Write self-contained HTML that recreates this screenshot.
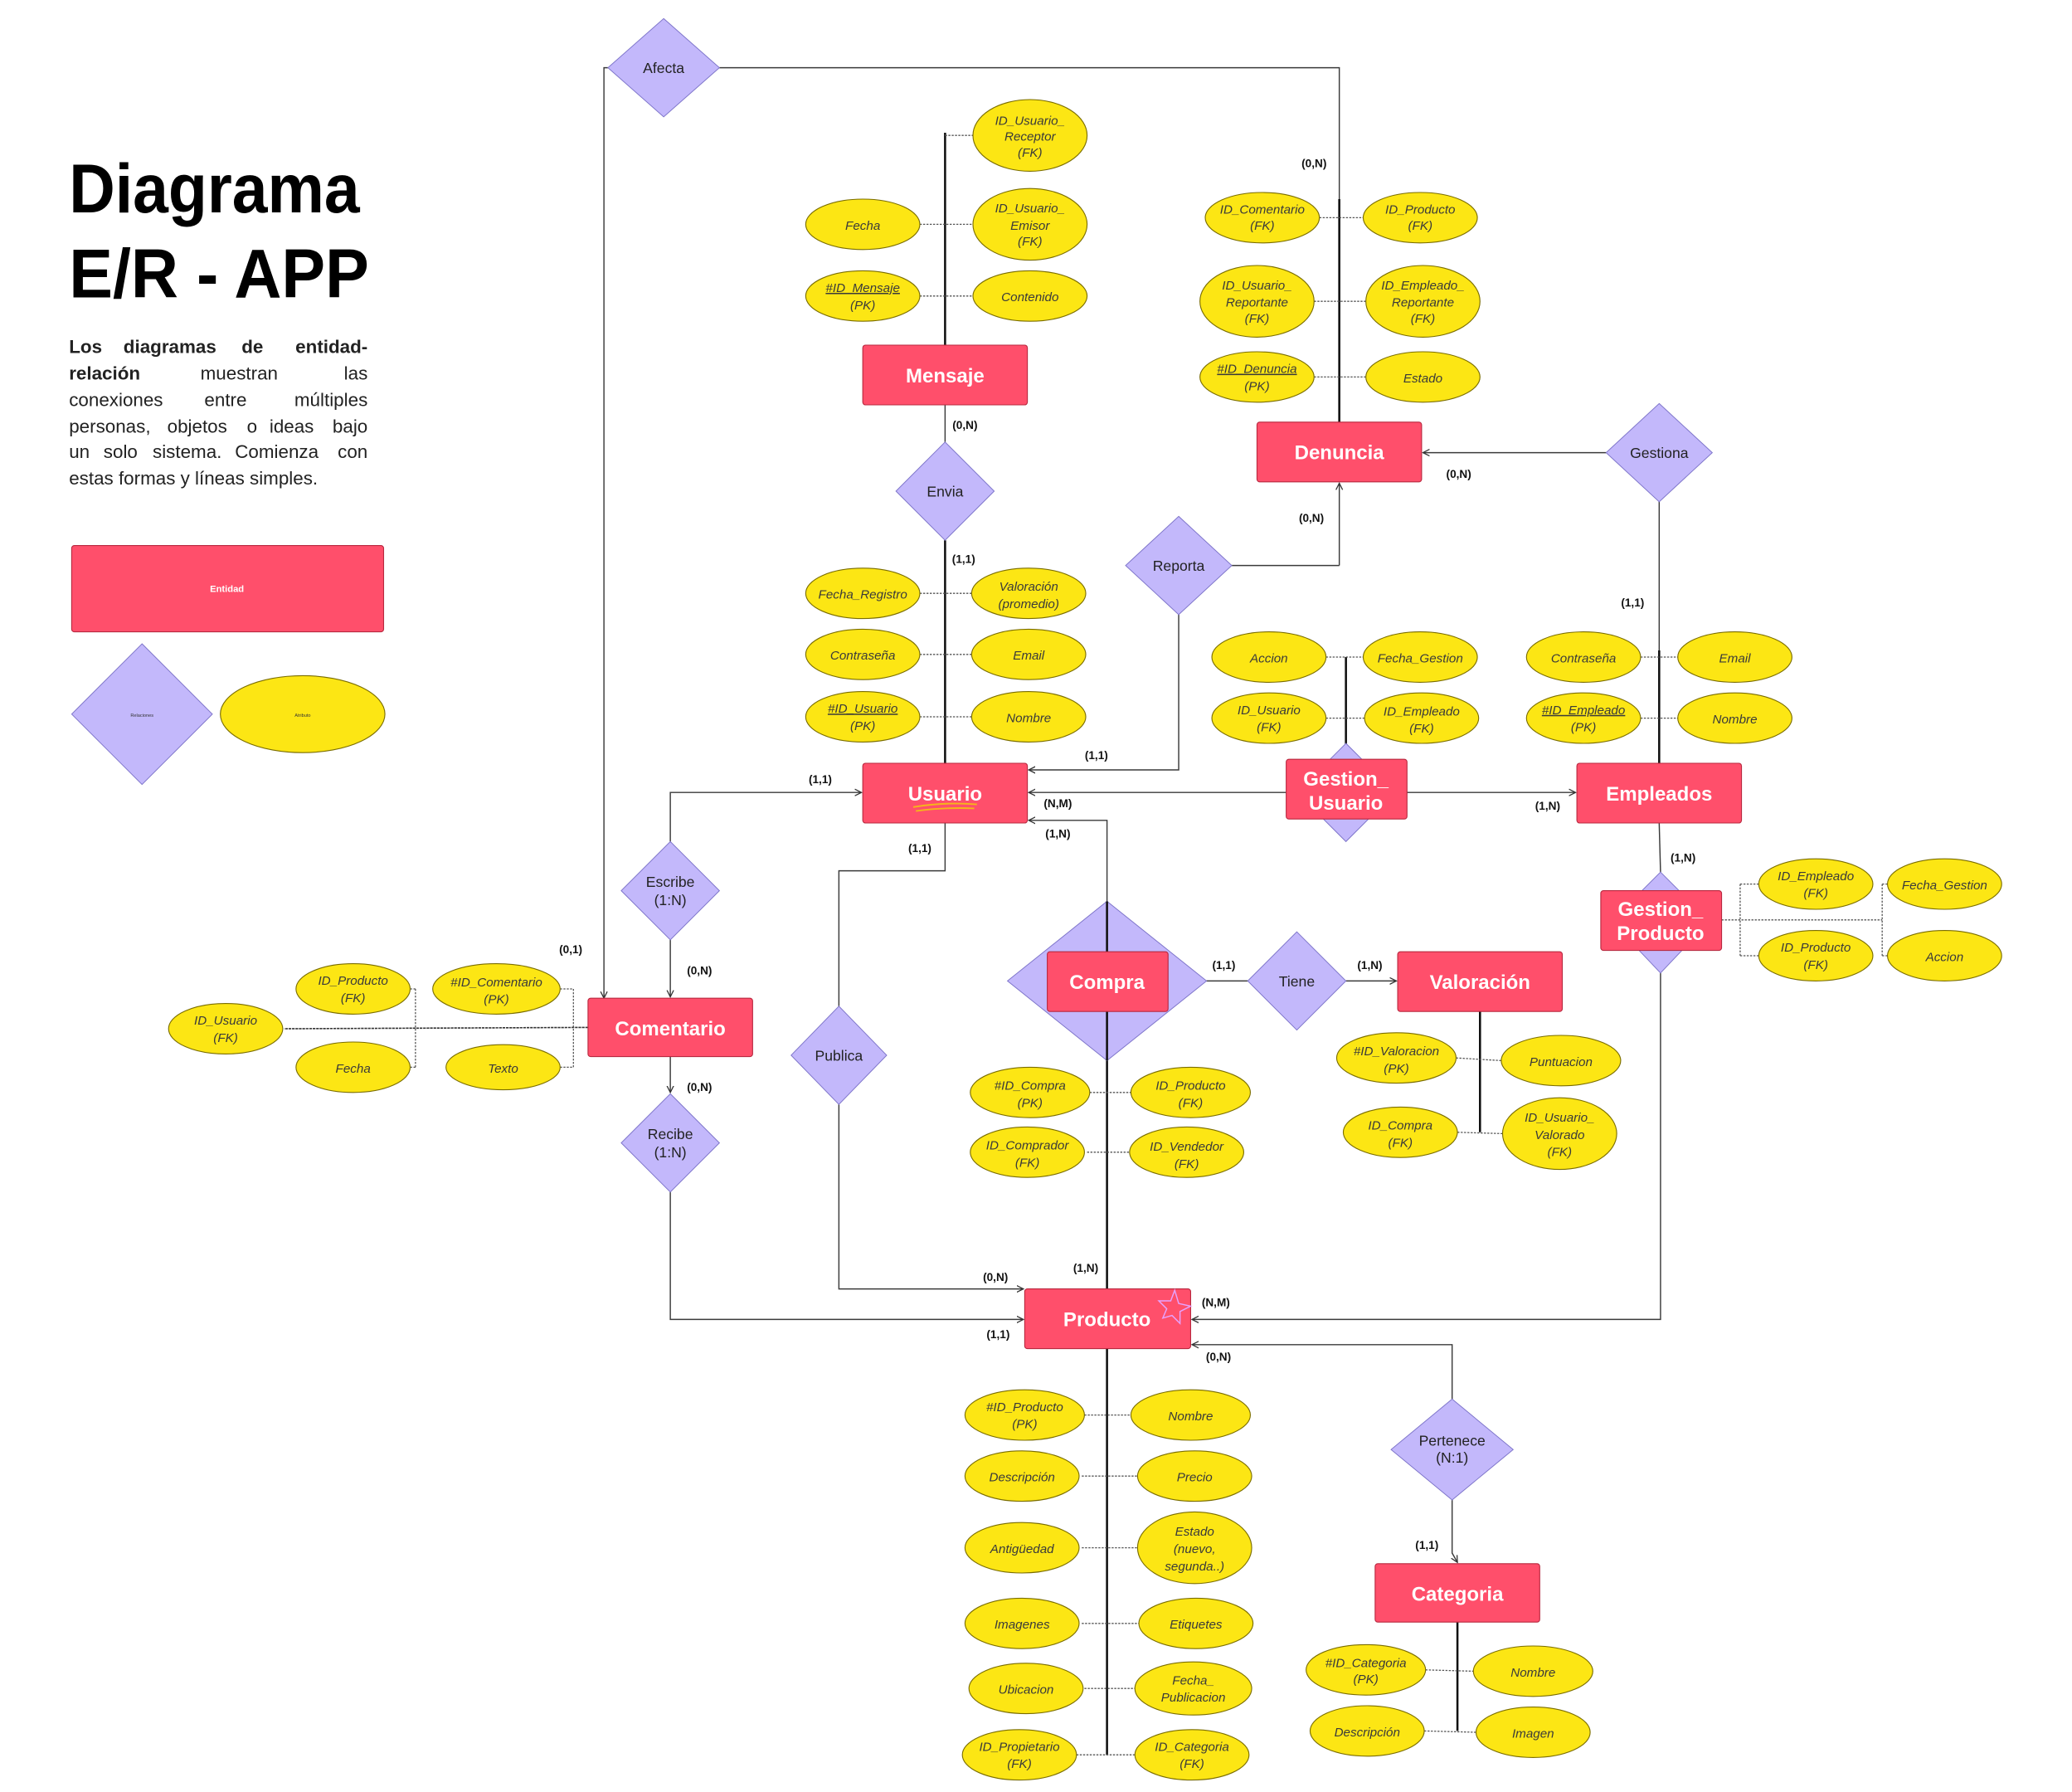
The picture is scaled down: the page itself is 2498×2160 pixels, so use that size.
<!DOCTYPE html>
<html><head><meta charset="utf-8"><style>
html,body{margin:0;padding:0;background:#fff}
svg{display:block}
.e{fill:#FCE614;stroke:#7a6d00;stroke-width:.7}
.a{font-family:"Liberation Sans",sans-serif;font-style:italic;font-size:9.5px;fill:#3a3a3a;text-anchor:middle}
.d{fill:#C3B8FB;stroke:#7d74c9;stroke-width:.6}
.dt{font-family:"Liberation Sans",sans-serif;font-size:11px;fill:#222;text-anchor:middle}
.r{fill:#FF4F6B;stroke:#b8283f;stroke-width:.7}
.t{font-family:"Liberation Sans",sans-serif;font-weight:bold;font-size:15px;fill:#fff;text-anchor:middle}
.c{font-family:"Liberation Sans",sans-serif;font-weight:bold;font-size:8.5px;fill:#111;text-anchor:middle}
.l{stroke:#3a3a3a;stroke-width:.9;fill:none}
.v{stroke:#111;stroke-width:1.6;fill:none}
.dl{stroke:#555;stroke-width:.8;stroke-dasharray:1.5 1;fill:none}
.p{font-family:"Liberation Sans",sans-serif;font-size:14px;fill:#222}
</style></head><body>
<svg width="2498" height="2160" viewBox="0 0 1561 1350" preserveAspectRatio="none" xmlns="http://www.w3.org/2000/svg">
<defs><marker id="ar" markerWidth="6" markerHeight="6" refX="5" refY="3" orient="auto" markerUnits="userSpaceOnUse"><path d="M0,0.5 L5,3 L0,5.5" fill="none" stroke="#333" stroke-width=".8"/></marker></defs>

<!-- Title -->
<text x="52" y="160" font-family="Liberation Sans" font-weight="bold" font-size="52" textLength="219" lengthAdjust="spacingAndGlyphs" fill="#000">Diagrama</text>
<text x="52" y="224" font-family="Liberation Sans" font-weight="bold" font-size="52" textLength="226" lengthAdjust="spacingAndGlyphs" fill="#000">E/R - APP</text>
<text class="p" x="52" y="266" font-weight="bold">Los</text>
<text class="p" x="93" y="266" font-weight="bold">diagramas</text>
<text class="p" x="182" y="266" font-weight="bold">de</text>
<text class="p" x="277" y="266" font-weight="bold" text-anchor="end">entidad-</text>
<text class="p" x="52" y="286" font-weight="bold">relación</text>
<text class="p" x="151" y="286">muestran</text>
<text class="p" x="277" y="286" text-anchor="end">las</text>
<text class="p" x="52" y="306">conexiones</text>
<text class="p" x="154" y="306">entre</text>
<text class="p" x="277" y="306" text-anchor="end">múltiples</text>
<text class="p" x="52" y="326">personas,</text>
<text class="p" x="126" y="326">objetos</text>
<text class="p" x="186" y="326">o</text>
<text class="p" x="203" y="326">ideas</text>
<text class="p" x="277" y="326" text-anchor="end">bajo</text>
<text class="p" x="52" y="345">un</text>
<text class="p" x="78" y="345">solo</text>
<text class="p" x="115" y="345">sistema.</text>
<text class="p" x="177" y="345">Comienza</text>
<text class="p" x="277" y="345" text-anchor="end">con</text>
<text class="p" x="52" y="365">estas formas y líneas simples.</text>

<!-- Legend -->
<rect class="r" x="54" y="411" width="235" height="65" rx="2"/>
<text x="171" y="446" font-family="Liberation Sans" font-weight="bold" font-size="7" fill="#fff" text-anchor="middle">Entidad</text>
<polygon class="d" points="107,485 160,538 107,591 54,538"/>
<text x="107" y="540" font-family="Liberation Sans" font-size="3.5" fill="#333" text-anchor="middle">Relaciones</text>
<ellipse class="e" cx="228" cy="538" rx="62" ry="29"/>
<text x="228" y="540" font-family="Liberation Sans" font-size="3.5" fill="#333" text-anchor="middle">Atributo</text>

<!-- Connectors -->
<path class="l" d="M458,51 L455,51 L455,752" marker-end="url(#ar)"/>
<path class="l" d="M542,51 L1009,51 L1009,318"/>
<path class="l" d="M712,305 L712,333"/>
<path class="l" d="M1009,426 L1009,364" marker-end="url(#ar)"/>
<path class="l" d="M928,426 L1009,426"/>
<path class="l" d="M888,463 L888,580 L775,580" marker-end="url(#ar)"/>
<path class="l" d="M1210,341 L1072,341" marker-end="url(#ar)"/>
<path class="l" d="M1250,378 L1250,575"/>
<path class="l" d="M969,597 L775,597" marker-end="url(#ar)"/>
<path class="l" d="M1060,597 L1187,597" marker-end="url(#ar)"/>
<path class="l" d="M505,634 L505,597 L649,597" marker-end="url(#ar)"/>
<path class="l" d="M505,708 L505,751" marker-end="url(#ar)"/>
<path class="l" d="M505,796 L505,823" marker-end="url(#ar)"/>
<path class="l" d="M505,898 L505,994 L771,994" marker-end="url(#ar)"/>
<path class="l" d="M712,620 L712,656 L632,656 L632,758"/>
<path class="l" d="M632,832 L632,971 L771,971" marker-end="url(#ar)"/>
<path class="l" d="M834,679 L834,618 L775,618" marker-end="url(#ar)"/>
<path class="l" d="M940,739 L881,739" marker-end="url(#ar)"/>
<path class="l" d="M1014,739 L1052,739" marker-end="url(#ar)"/>
<path class="l" d="M1250,620 L1251,657"/>
<path class="l" d="M1251,733 L1251,994 L898,994" marker-end="url(#ar)"/>
<path class="l" d="M1094,1054 L1094,1013 L898,1013" marker-end="url(#ar)"/>
<path class="l" d="M1094,1130 L1094,1170 L1098,1177" marker-end="url(#ar)"/>
<path class="l" d="M834,762 L834,971"/>

<!-- attribute spines -->
<path class="v" d="M712,100 L712,260"/>
<path class="v" d="M1009,150 L1009,318"/>
<path class="v" d="M712,407 L712,575"/>
<path class="v" d="M1014,495 L1014,572"/>
<path class="v" d="M1250,490 L1250,575"/>
<path class="v" d="M834,799 L834,971"/>
<path class="v" d="M1115,762 L1115,853"/>
<path class="v" d="M834,1016 L834,1322"/>
<path class="v" d="M1098,1222 L1098,1304"/>
<path d="M443,774 L214,775" stroke="#333" stroke-width="1" stroke-dasharray="2 .6" fill="none"/>

<!-- dotted attribute links -->
<path class="dl" d="M712,102 L733,102 M693,169 L733,169 M693,223 L733,223
M994,164 L1027,164 M990,227 L1029,227 M990,284 L1029,284
M693,447 L732,447 M693,493 L732,493 M693,540 L732,540
M999,495 L1027,495 M999,541 L1028,541
M1236,495 L1264,495 M1236,541 L1264,541
M821,823 L852,823 M819,868 L851,868
M1097,797 L1131,799 M1098,853 L1132,854
M817,1066 L852,1066 M815,1112 L857,1112 M815,1166 L857,1166 M815,1223 L858,1223 M817,1272 L855,1272 M811,1322 L855,1322
M1074,1258 L1110,1259 M1073,1304 L1112,1305
M313,745 L313,804 M309,745 L313,745 M309,804 L313,804 M432,745 L432,804 M417,745 L432,745 M422,804 L432,804
M1297,693 L1418,693 M1311,666 L1311,720 M1311,666 L1325,666 M1311,720 L1325,720 M1418,666 L1418,720 M1418,666 L1422,666 M1418,720 L1422,720"/>

<!-- Relationship diamonds -->
<polygon class="d" points="500,14 542,51 500,88 458,51"/><text class="dt" x="500" y="55">Afecta</text>
<polygon class="d" points="712,333 749,370 712,407 675,370"/><text class="dt" x="712" y="374">Envia</text>
<polygon class="d" points="888,389 928,426 888,463 848,426"/><text class="dt" x="888" y="430">Reporta</text>
<polygon class="d" points="1250,304 1290,341 1250,378 1210,341"/><text class="dt" x="1250" y="345">Gestiona</text>
<polygon class="d" points="505,634 542,671 505,708 468,671"/><text class="dt" x="505" y="668">Escribe</text><text class="dt" x="505" y="682">(1:N)</text>
<polygon class="d" points="505,824 542,861 505,898 468,861"/><text class="dt" x="505" y="858">Recibe</text><text class="dt" x="505" y="872">(1:N)</text>
<polygon class="d" points="632,758 668,795 632,832 596,795"/><text class="dt" x="632" y="799">Publica</text>
<polygon class="d" points="977,702 1014,739 977,776 940,739"/><text class="dt" x="977" y="743">Tiene</text>
<polygon class="d" points="1094,1054 1140,1092 1094,1130 1048,1092"/><text class="dt" x="1094" y="1089">Pertenece</text><text class="dt" x="1094" y="1102">(N:1)</text>
<polygon class="d" points="1014,560 1051,597 1014,634 977,597"/>
<polygon class="d" points="1251,657 1288,694 1251,733 1214,694"/>
<polygon class="d" points="834,679 909,739 834,799 759,739"/>
<path class="v" d="M834,679 L834,717 M834,762 L834,799" />

<!-- Entities -->
<rect class="r" x="650" y="260" width="124" height="45" rx="2"/><text class="t" x="712" y="288">Mensaje</text>
<rect class="r" x="947" y="318" width="124" height="45" rx="2"/><text class="t" x="1009" y="346">Denuncia</text>
<rect class="r" x="650" y="575" width="124" height="45" rx="2"/><text class="t" x="712" y="603">Usuario</text>
<path d="M688,608 Q712,604 736,606 M690,611 Q712,608 734,609" stroke="#f5b51a" stroke-width="1.2" fill="none"/>
<rect class="r" x="969" y="572" width="91" height="45" rx="2"/><text class="t" x="1014" y="592">Gestion_</text><text class="t" x="1014" y="610">Usuario</text>
<rect class="r" x="1188" y="575" width="124" height="45" rx="2"/><text class="t" x="1250" y="603">Empleados</text>
<rect class="r" x="1206" y="671" width="91" height="45" rx="2"/><text class="t" x="1251" y="690">Gestion_</text><text class="t" x="1251" y="708">Producto</text>
<rect class="r" x="789" y="717" width="91" height="45" rx="2"/><text class="t" x="834" y="745">Compra</text>
<rect class="r" x="1053" y="717" width="124" height="45" rx="2"/><text class="t" x="1115" y="745">Valoración</text>
<rect class="r" x="443" y="752" width="124" height="44" rx="2"/><text class="t" x="505" y="780">Comentario</text>
<rect class="r" x="772" y="971" width="125" height="45" rx="2"/><text class="t" x="834" y="999">Producto</text>
<path d="M885,972 L888,982 L897,984 L889,988 L889,997 L883,991 L876,993 L879,986 L873,980 L882,980 Z" fill="none" stroke="#e6a3ff" stroke-width=".9"/>
<rect class="r" x="1036" y="1178" width="124" height="44" rx="2"/><text class="t" x="1098" y="1206">Categoria</text>

<!-- Attributes -->
<g>
<ellipse class="e" cx="776" cy="102" rx="43" ry="27"/><text class="a" x="776" y="94">ID_Usuario_</text><text class="a" x="776" y="106">Receptor</text><text class="a" x="776" y="118">(FK)</text>
<ellipse class="e" cx="650" cy="169" rx="43" ry="19"/><text class="a" x="650" y="173">Fecha</text>
<ellipse class="e" cx="776" cy="169" rx="43" ry="27"/><text class="a" x="776" y="160">ID_Usuario_</text><text class="a" x="776" y="173">Emisor</text><text class="a" x="776" y="185">(FK)</text>
<ellipse class="e" cx="650" cy="223" rx="43" ry="19"/><text class="a" x="650" y="220" text-decoration="underline">#ID_Mensaje</text><text class="a" x="650" y="233">(PK)</text>
<ellipse class="e" cx="776" cy="223" rx="43" ry="19"/><text class="a" x="776" y="227">Contenido</text>

<ellipse class="e" cx="951" cy="164" rx="43" ry="19"/><text class="a" x="951" y="161">ID_Comentario</text><text class="a" x="951" y="173">(FK)</text>
<ellipse class="e" cx="1070" cy="164" rx="43" ry="19"/><text class="a" x="1070" y="161">ID_Producto</text><text class="a" x="1070" y="173">(FK)</text>
<ellipse class="e" cx="947" cy="227" rx="43" ry="27"/><text class="a" x="947" y="218">ID_Usuario_</text><text class="a" x="947" y="231">Reportante</text><text class="a" x="947" y="243">(FK)</text>
<ellipse class="e" cx="1072" cy="227" rx="43" ry="27"/><text class="a" x="1072" y="218">ID_Empleado_</text><text class="a" x="1072" y="231">Reportante</text><text class="a" x="1072" y="243">(FK)</text>
<ellipse class="e" cx="947" cy="284" rx="43" ry="19"/><text class="a" x="947" y="281" text-decoration="underline">#ID_Denuncia</text><text class="a" x="947" y="294">(PK)</text>
<ellipse class="e" cx="1072" cy="284" rx="43" ry="19"/><text class="a" x="1072" y="288">Estado</text>

<ellipse class="e" cx="650" cy="447" rx="43" ry="19"/><text class="a" x="650" y="451">Fecha_Registro</text>
<ellipse class="e" cx="775" cy="447" rx="43" ry="19"/><text class="a" x="775" y="445">Valoración</text><text class="a" x="775" y="458">(promedio)</text>
<ellipse class="e" cx="650" cy="493" rx="43" ry="19"/><text class="a" x="650" y="497">Contraseña</text>
<ellipse class="e" cx="775" cy="493" rx="43" ry="19"/><text class="a" x="775" y="497">Email</text>
<ellipse class="e" cx="650" cy="540" rx="43" ry="19"/><text class="a" x="650" y="537" text-decoration="underline">#ID_Usuario</text><text class="a" x="650" y="550">(PK)</text>
<ellipse class="e" cx="775" cy="540" rx="43" ry="19"/><text class="a" x="775" y="544">Nombre</text>

<ellipse class="e" cx="956" cy="495" rx="43" ry="19"/><text class="a" x="956" y="499">Accion</text>
<ellipse class="e" cx="1070" cy="495" rx="43" ry="19"/><text class="a" x="1070" y="499">Fecha_Gestion</text>
<ellipse class="e" cx="956" cy="541" rx="43" ry="19"/><text class="a" x="956" y="538">ID_Usuario</text><text class="a" x="956" y="551">(FK)</text>
<ellipse class="e" cx="1071" cy="541" rx="43" ry="19"/><text class="a" x="1071" y="539">ID_Empleado</text><text class="a" x="1071" y="552">(FK)</text>

<ellipse class="e" cx="1193" cy="495" rx="43" ry="19"/><text class="a" x="1193" y="499">Contraseña</text>
<ellipse class="e" cx="1307" cy="495" rx="43" ry="19"/><text class="a" x="1307" y="499">Email</text>
<ellipse class="e" cx="1193" cy="541" rx="43" ry="19"/><text class="a" x="1193" y="538" text-decoration="underline">#ID_Empleado</text><text class="a" x="1193" y="551">(PK)</text>
<ellipse class="e" cx="1307" cy="541" rx="43" ry="19"/><text class="a" x="1307" y="545">Nombre</text>

<ellipse class="e" cx="1368" cy="666" rx="43" ry="19"/><text class="a" x="1368" y="663">ID_Empleado</text><text class="a" x="1368" y="676">(FK)</text>
<ellipse class="e" cx="1465" cy="666" rx="43" ry="19"/><text class="a" x="1465" y="670">Fecha_Gestion</text>
<ellipse class="e" cx="1368" cy="720" rx="43" ry="19"/><text class="a" x="1368" y="717">ID_Producto</text><text class="a" x="1368" y="730">(FK)</text>
<ellipse class="e" cx="1465" cy="720" rx="43" ry="19"/><text class="a" x="1465" y="724">Accion</text>

<ellipse class="e" cx="266" cy="745" rx="43" ry="19"/><text class="a" x="266" y="742">ID_Producto</text><text class="a" x="266" y="755">(FK)</text>
<ellipse class="e" cx="374" cy="745" rx="48" ry="19"/><text class="a" x="374" y="743">#ID_Comentario</text><text class="a" x="374" y="756">(PK)</text>
<ellipse class="e" cx="170" cy="775" rx="43" ry="19"/><text class="a" x="170" y="772">ID_Usuario</text><text class="a" x="170" y="785">(FK)</text>
<ellipse class="e" cx="266" cy="804" rx="43" ry="19"/><text class="a" x="266" y="808">Fecha</text>
<ellipse class="e" cx="379" cy="804" rx="43" ry="17"/><text class="a" x="379" y="808">Texto</text>

<ellipse class="e" cx="776" cy="823" rx="45" ry="19"/><text class="a" x="776" y="821">#ID_Compra</text><text class="a" x="776" y="834">(PK)</text>
<ellipse class="e" cx="897" cy="823" rx="45" ry="19"/><text class="a" x="897" y="821">ID_Producto</text><text class="a" x="897" y="834">(FK)</text>
<ellipse class="e" cx="774" cy="868" rx="43" ry="19"/><text class="a" x="774" y="866">ID_Comprador</text><text class="a" x="774" y="879">(FK)</text>
<ellipse class="e" cx="894" cy="868" rx="43" ry="19"/><text class="a" x="894" y="867">ID_Vendedor</text><text class="a" x="894" y="880">(FK)</text>

<ellipse class="e" cx="1052" cy="797" rx="45" ry="19"/><text class="a" x="1052" y="795">#ID_Valoracion</text><text class="a" x="1052" y="808">(PK)</text>
<ellipse class="e" cx="1176" cy="799" rx="45" ry="19"/><text class="a" x="1176" y="803">Puntuacion</text>
<ellipse class="e" cx="1055" cy="853" rx="43" ry="19"/><text class="a" x="1055" y="851">ID_Compra</text><text class="a" x="1055" y="864">(FK)</text>
<ellipse class="e" cx="1175" cy="854" rx="43" ry="27"/><text class="a" x="1175" y="845">ID_Usuario_</text><text class="a" x="1175" y="858">Valorado</text><text class="a" x="1175" y="871">(FK)</text>

<ellipse class="e" cx="772" cy="1066" rx="45" ry="19"/><text class="a" x="772" y="1063">#ID_Producto</text><text class="a" x="772" y="1076">(PK)</text>
<ellipse class="e" cx="897" cy="1066" rx="45" ry="19"/><text class="a" x="897" y="1070">Nombre</text>
<ellipse class="e" cx="770" cy="1112" rx="43" ry="19"/><text class="a" x="770" y="1116">Descripción</text>
<ellipse class="e" cx="900" cy="1112" rx="43" ry="19"/><text class="a" x="900" y="1116">Precio</text>
<ellipse class="e" cx="770" cy="1166" rx="43" ry="19"/><text class="a" x="770" y="1170">Antigüedad</text>
<ellipse class="e" cx="900" cy="1166" rx="43" ry="27"/><text class="a" x="900" y="1157">Estado</text><text class="a" x="900" y="1170">(nuevo,</text><text class="a" x="900" y="1183">segunda..)</text>
<ellipse class="e" cx="770" cy="1223" rx="43" ry="19"/><text class="a" x="770" y="1227">Imagenes</text>
<ellipse class="e" cx="901" cy="1223" rx="43" ry="19"/><text class="a" x="901" y="1227">Etiquetes</text>
<ellipse class="e" cx="773" cy="1272" rx="43" ry="19"/><text class="a" x="773" y="1276">Ubicacion</text>
<ellipse class="e" cx="899" cy="1272" rx="44" ry="20"/><text class="a" x="899" y="1269">Fecha_</text><text class="a" x="899" y="1282">Publicacion</text>
<ellipse class="e" cx="768" cy="1322" rx="43" ry="19"/><text class="a" x="768" y="1319">ID_Propietario</text><text class="a" x="768" y="1332">(FK)</text>
<ellipse class="e" cx="898" cy="1322" rx="43" ry="19"/><text class="a" x="898" y="1319">ID_Categoria</text><text class="a" x="898" y="1332">(FK)</text>

<ellipse class="e" cx="1029" cy="1258" rx="45" ry="19"/><text class="a" x="1029" y="1256">#ID_Categoria</text><text class="a" x="1029" y="1268">(PK)</text>
<ellipse class="e" cx="1155" cy="1259" rx="45" ry="19"/><text class="a" x="1155" y="1263">Nombre</text>
<ellipse class="e" cx="1030" cy="1304" rx="43" ry="19"/><text class="a" x="1030" y="1308">Descripción</text>
<ellipse class="e" cx="1155" cy="1305" rx="43" ry="19"/><text class="a" x="1155" y="1309">Imagen</text>
</g>

<!-- cardinalities -->
<text class="c" x="990" y="126">(0,N)</text>
<text class="c" x="727" y="323">(0,N)</text>
<text class="c" x="726" y="424">(1,1)</text>
<text class="c" x="988" y="393">(0,N)</text>
<text class="c" x="1099" y="360">(0,N)</text>
<text class="c" x="1230" y="457">(1,1)</text>
<text class="c" x="826" y="572">(1,1)</text>
<text class="c" x="618" y="590">(1,1)</text>
<text class="c" x="797" y="608">(N,M)</text>
<text class="c" x="797" y="631">(1,N)</text>
<text class="c" x="693" y="642">(1,1)</text>
<text class="c" x="1166" y="610">(1,N)</text>
<text class="c" x="1268" y="649">(1,N)</text>
<text class="c" x="430" y="718">(0,1)</text>
<text class="c" x="527" y="734">(0,N)</text>
<text class="c" x="922" y="730">(1,1)</text>
<text class="c" x="1032" y="730">(1,N)</text>
<text class="c" x="527" y="822">(0,N)</text>
<text class="c" x="818" y="958">(1,N)</text>
<text class="c" x="750" y="965">(0,N)</text>
<text class="c" x="916" y="984">(N,M)</text>
<text class="c" x="752" y="1008">(1,1)</text>
<text class="c" x="918" y="1025">(0,N)</text>
<text class="c" x="1075" y="1167">(1,1)</text>
</svg>
</body></html>
